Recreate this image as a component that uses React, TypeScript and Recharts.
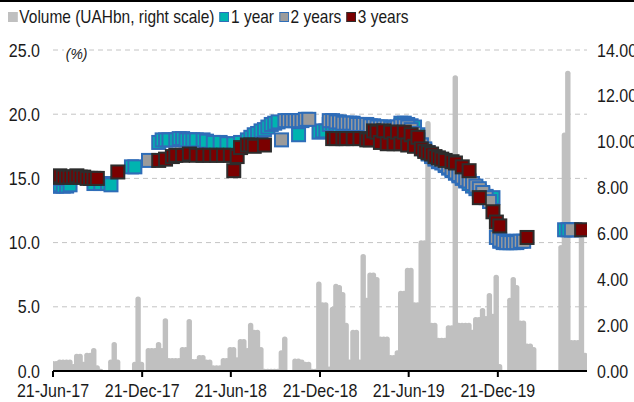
import React from 'react';
import { ComposedChart, Bar, Scatter, XAxis, YAxis, CartesianGrid } from 'recharts';

/* ─── Data (weekly, week 0 = 21-Jun-17) ──────────────────────────────── */

const X_TICK_DAYS = [0, 183, 365, 548, 730, 913];
const X_TICK_LABELS = ['21-Jun-17', '21-Dec-17', '21-Jun-18', '21-Dec-18', '21-Jun-19', '21-Dec-19'];
const LEFT_TICKS = [0, 5, 10, 15, 20, 25];
const RIGHT_TICKS = [0, 2, 4, 6, 8, 10, 12, 14];

// auction volume, UAHbn (right scale)
const VOLUME = [
  0.44, 0.44, 0.5, 0.5, 0.5, 0.5, 0.3, 0.75, 0.75, 0.4,
  0.8, 0.8, 1.0, 0.25, 0.1, 0, 0, 0.5, 1.27, 0.5,
  0, 0, 0, 0, 0.4, 3.25, 0.4, 0, 1.0, 1.0,
  1.0, 1.27, 1.0, 2.3, 0.57, 0.57, 0.57, 0.57, 1.05, 1.05,
  2.27, 0.52, 0.52, 0.7, 0.7, 0.5, 0.5, 0.25, 0.25, 0.25,
  0.57, 0.57, 1.05, 1.05, 0.6, 1.4, 1.4, 1.0, 2.1, 1.8,
  1.8, 1.05, 0.1, 0.1, 0.1, 0.1, 0.1, 0.9, 1.5, 0,
  0, 0.55, 0.55, 0.5, 0.4, 0.4, 0.1, 0.1, 3.9, 3.0,
  3.0, 0.2, 2.8, 3.8, 3.75, 3.45, 2.1, 0.5, 1.8, 1.8,
  0.5, 5.1, 3.2, 4.3, 4.3, 4.1, 1.5, 1.5, 1.5, 0.7,
  0.7, 0.9, 3.5, 3.5, 4.5, 4.5, 3.0, 3.0, 5.7, 5.7,
  10.9, 2.1, 2.1, 1.45, 1.45, 1.45, 2.0, 2.0, 12.9, 2.1,
  2.1, 2.1, 2.1, 1.8, 2.35, 2.35, 2.75, 2.4, 3.4, 2.5,
  4.2, 0.3, 0, 0, 3.2, 4.1, 3.75, 2.2, 2.2, 1.2,
  1.2, 1.05, 0, 0, 0, 0, 0, 0, 0, 5.5,
  10.4, 13.1, 1.35, 1.35, 1.35, 6.0, 0.8,
];

// [week, yield %]
const ONE_YEAR: [number, number][] = [
  [0, 14.4], [1, 14.4], [2, 14.5], [3, 14.4], [4, 14.4], [5, 14.5], [12, 14.6], [14, 14.6], [16, 14.6], [17, 14.5],
  [23, 15.9], [24, 15.9],
  [31, 17.8], [32, 18.0], [33, 18.0], [34, 18.0], [36, 18.0], [37, 18.1], [38, 18.1], [39, 18.0], [40, 18.0],
  [41, 18.0], [42, 18.0], [44, 18.0], [45, 17.9], [47, 17.8], [49, 17.8], [51, 17.7], [53, 17.7], [55, 17.8],
  [57, 18.0], [58, 18.2], [59, 18.4], [60, 18.5], [61, 18.7], [62, 18.8], [63, 19.0], [64, 19.2], [65, 19.3], [66, 19.4],
  [72, 18.4], [78, 18.6], [79, 18.7], [80, 18.7],
  [81, 19.2], [82, 19.2], [83, 19.2], [84, 19.1], [85, 19.1], [86, 19.1], [87, 19.1], [88, 19.1], [89, 19.1],
  [90, 19.1], [91, 19.0], [92, 19.0], [93, 19.0],
  [102, 19.3], [103, 19.3], [104, 19.2], [105, 19.1], [106, 19.0], [107, 18.4], [108, 17.6], [109, 17.2],
  [110, 16.9], [111, 16.7], [112, 16.5], [113, 16.3], [114, 16.2], [115, 16.0], [116, 15.8], [117, 15.6],
  [118, 15.4], [119, 15.2], [120, 15.0], [121, 14.8], [122, 14.6], [123, 14.4], [124, 14.2], [125, 14.0],
  [126, 13.8], [127, 13.6], [129, 13.5],
  [131, 10.1], [132, 10.0], [133, 10.0], [134, 10.0], [135, 10.1], [136, 10.1],
  [150, 11.0], [151, 11.0], [152, 11.0], [153, 11.0],
];

const TWO_YEARS: [number, number][] = [
  [0, 15.0], [1, 15.0], [28, 16.4],
  [67, 18.0], [68, 19.5], [69, 19.5], [70, 19.5], [71, 19.5], [72, 19.5], [73, 19.5], [74, 19.6], [75, 19.6],
  [81, 19.5], [82, 19.5], [83, 19.4], [84, 19.4], [85, 19.3], [86, 19.3], [87, 19.3], [88, 19.3], [89, 19.2],
  [90, 19.2], [91, 19.2], [92, 19.2], [93, 19.1], [94, 19.1], [95, 19.0], [96, 19.0], [97, 19.0], [98, 19.0],
  [99, 18.9], [100, 18.9], [101, 19.0], [102, 19.1], [103, 19.1], [104, 19.0], [105, 18.8], [106, 18.5],
  [107, 18.0], [108, 17.6], [109, 17.3], [110, 17.0], [111, 16.8], [112, 16.6], [113, 16.4], [114, 16.3],
  [115, 16.1], [116, 15.9], [117, 15.7], [118, 15.5], [119, 15.3], [120, 15.1], [121, 14.9], [122, 14.8],
  [123, 14.6], [124, 14.4], [125, 14.2], [126, 13.9], [127, 13.5], [128, 13.2],
  [130, 10.4], [131, 10.2], [132, 10.1], [133, 10.0], [134, 10.0], [135, 10.0], [136, 10.0], [137, 10.1], [138, 10.1],
  [152, 11.0],
];

const THREE_YEARS: [number, number][] = [
  [0, 15.1], [1, 15.1], [2, 15.2], [3, 15.1], [4, 15.1], [5, 15.1], [6, 15.1], [7, 15.2], [8, 15.1], [9, 15.1],
  [10, 15.0], [11, 15.0], [12, 15.0], [13, 15.0],
  [19, 15.5],
  [31, 16.4], [33, 16.5], [35, 16.7], [36, 16.8], [38, 16.8], [40, 16.9], [42, 16.8], [44, 16.8], [46, 16.8],
  [48, 16.8], [50, 16.8], [52, 16.8], [53, 15.6], [54, 16.7],
  [55, 17.4], [57, 17.6], [58, 17.6], [59, 17.5], [62, 17.6],
  [82, 18.1], [83, 18.1], [85, 18.1], [86, 18.1], [88, 18.1], [90, 18.1], [92, 18.0], [93, 18.0],
  [94, 18.7], [95, 18.6], [96, 17.8], [97, 18.7], [98, 17.7], [99, 18.6], [100, 17.7], [101, 18.6],
  [102, 17.7], [103, 18.6], [104, 17.6], [105, 18.4], [106, 17.5], [107, 18.2], [108, 17.3], [109, 17.1],
  [110, 17.0], [111, 16.9], [112, 16.7], [113, 16.6], [114, 16.5], [115, 16.4], [117, 16.3], [118, 16.2],
  [120, 15.9], [122, 15.6], [125, 13.5], [129, 12.4], [130, 11.6], [131, 11.3], [139, 10.4], [155, 11.0],
];

/* ─── Styling ────────────────────────────────────────────────────────── */

const FONT = '"Liberation Sans", Arial, sans-serif';
const FS = 17.8;
const TEXT = '#1a1a1a';
const VOL_COLOR = '#c0c0c0';
const BLUE = '#2f6db8';
const TEAL = '#00b4b0';
const GRAY = '#9b9b9b';
const RED = '#7b0000';
const RED_EDGE = '#2d2d2d';

const volumeRows = VOLUME.map((v, w) => ({ day: w * 7, vol: v }));
const toPoints = (arr: [number, number][]) => arr.map(([w, v]) => ({ day: w * 7, y: v }));

const square = (fill: string, stroke: string) =>
  // eslint-disable-next-line @typescript-eslint/no-explicit-any
  (props: any) => {
    const { cx, cy } = props;
    if (typeof cx !== 'number' || typeof cy !== 'number') return <g />;
    return (
      <rect x={cx - 6.5} y={cy - 6.5} width={13} height={13} fill={fill} stroke={stroke} strokeWidth={2} />
    );
  };

// wider bar with rounded top so neighbouring weeks merge like the original
// eslint-disable-next-line @typescript-eslint/no-explicit-any
const VolumeBar = (props: any) => {
  const { x, y, width, height } = props;
  if (!height || height <= 0) return <g />;
  const cx = x + width / 2;
  const w = 5.4;
  const l = cx - w / 2;
  const r = cx + w / 2;
  const b = y + height;
  const rr = Math.min(2.6, height);
  const d = `M${l},${b} L${l},${y + rr} Q${l},${y} ${l + rr},${y} L${r - rr},${y} Q${r},${y} ${r},${y + rr} L${r},${b} Z`;
  return <path d={d} fill={VOL_COLOR} />;
};

// eslint-disable-next-line @typescript-eslint/no-explicit-any
const LeftTick = (props: any) => (
  <text
    transform={`translate(40 ${props.y + 6.5}) scale(0.9 1)`}
    textAnchor="end"
    fontSize={FS}
    fontFamily={FONT}
    fill={TEXT}
  >
    {Number(props.payload.value).toFixed(1)}
  </text>
);

// eslint-disable-next-line @typescript-eslint/no-explicit-any
const RightTick = (props: any) => (
  <text
    transform={`translate(597 ${props.y + 6.5}) scale(0.9 1)`}
    textAnchor="start"
    fontSize={FS}
    fontFamily={FONT}
    fill={TEXT}
  >
    {Number(props.payload.value).toFixed(2)}
  </text>
);

// eslint-disable-next-line @typescript-eslint/no-explicit-any
const BottomTick = (props: any) => {
  const i = X_TICK_DAYS.indexOf(props.payload.value);
  return (
    <text
      transform={`translate(${props.x} 397) scale(0.9 1)`}
      textAnchor="middle"
      fontSize={FS}
      fontFamily={FONT}
      fill={TEXT}
    >
      {X_TICK_LABELS[i]}
    </text>
  );
};

const LegendItem = ({ fill, stroke, label }: { fill: string; stroke: string; label: string }) => (
  <span style={{ display: 'inline-flex', alignItems: 'center', marginRight: 6 }}>
    <span
      style={{
        display: 'inline-block',
        width: 9,
        height: 8.5,
        background: fill,
        border: `1.5px solid ${stroke}`,
        marginRight: 2,
      }}
    />
    {label}
  </span>
);

export default function App() {
  return (
    <div
      style={{
        position: 'fixed',
        left: 0,
        top: 0,
        width: 634,
        height: 402,
        overflow: 'hidden',
        background: '#fff',
      }}
    >
      <div style={{ position: 'absolute', left: 0, top: 0, width: 634, height: 2, background: '#000' }} />
      <div
        style={{
          position: 'absolute',
          left: 8,
          top: 7,
          fontFamily: FONT,
          fontSize: FS,
          lineHeight: '20px',
          color: TEXT,
          whiteSpace: 'nowrap',
          display: 'flex',
          alignItems: 'center',
          transform: 'scaleX(0.87)',
          transformOrigin: 'left center',
        }}
      >
        <LegendItem fill={VOL_COLOR} stroke={VOL_COLOR} label="Volume (UAHbn, right scale)" />
        <LegendItem fill={TEAL} stroke={BLUE} label="1 year" />
        <LegendItem fill={GRAY} stroke={BLUE} label="2 years" />
        <LegendItem fill={RED} stroke={RED_EDGE} label="3 years" />
      </div>

      <ComposedChart
        width={634}
        height={402}
        data={volumeRows}
        margin={{ top: 50, right: 0, bottom: 0, left: 0 }}
      >
        <CartesianGrid yAxisId="left" vertical={false} stroke="#c4c4c4" strokeDasharray="5 4" />
        <XAxis
          dataKey="day"
          type="number"
          domain={[0, 1096]}
          ticks={X_TICK_DAYS}
          height={31}
          axisLine={{ stroke: '#000', strokeWidth: 2 }}
          tickLine={{ stroke: '#000', strokeWidth: 2 }}
          tickSize={6}
          tick={<BottomTick />}
          allowDataOverflow
        />
        <YAxis
          yAxisId="left"
          orientation="left"
          width={53}
          domain={[0, 25]}
          ticks={LEFT_TICKS}
          axisLine={false}
          tickLine={false}
          tick={<LeftTick />}
        />
        <YAxis
          yAxisId="right"
          orientation="right"
          width={47}
          domain={[0, 14]}
          ticks={RIGHT_TICKS}
          axisLine={false}
          tickLine={false}
          tick={<RightTick />}
        />
        <Bar
          yAxisId="right"
          dataKey="vol"
          fill={VOL_COLOR}
          barSize={4}
          shape={<VolumeBar />}
          isAnimationActive={false}
        />
        <Scatter
          yAxisId="left"
          data={toPoints(ONE_YEAR)}
          dataKey="y"
          shape={square(TEAL, BLUE)}
          isAnimationActive={false}
        />
        <Scatter
          yAxisId="left"
          data={toPoints(TWO_YEARS)}
          dataKey="y"
          shape={square(GRAY, BLUE)}
          isAnimationActive={false}
        />
        <Scatter
          yAxisId="left"
          data={toPoints(THREE_YEARS)}
          dataKey="y"
          shape={square(RED, RED_EDGE)}
          isAnimationActive={false}
        />
      </ComposedChart>

      <span
        style={{
          position: 'absolute',
          left: 64,
          top: 45,
          fontFamily: FONT,
          fontSize: 15.5,
          fontStyle: 'italic',
          color: TEXT,
          background: '#fff',
          padding: '0 2px',
          transform: 'scaleX(0.9)',
          transformOrigin: 'left center',
        }}
      >
        (%)
      </span>
    </div>
  );
}
